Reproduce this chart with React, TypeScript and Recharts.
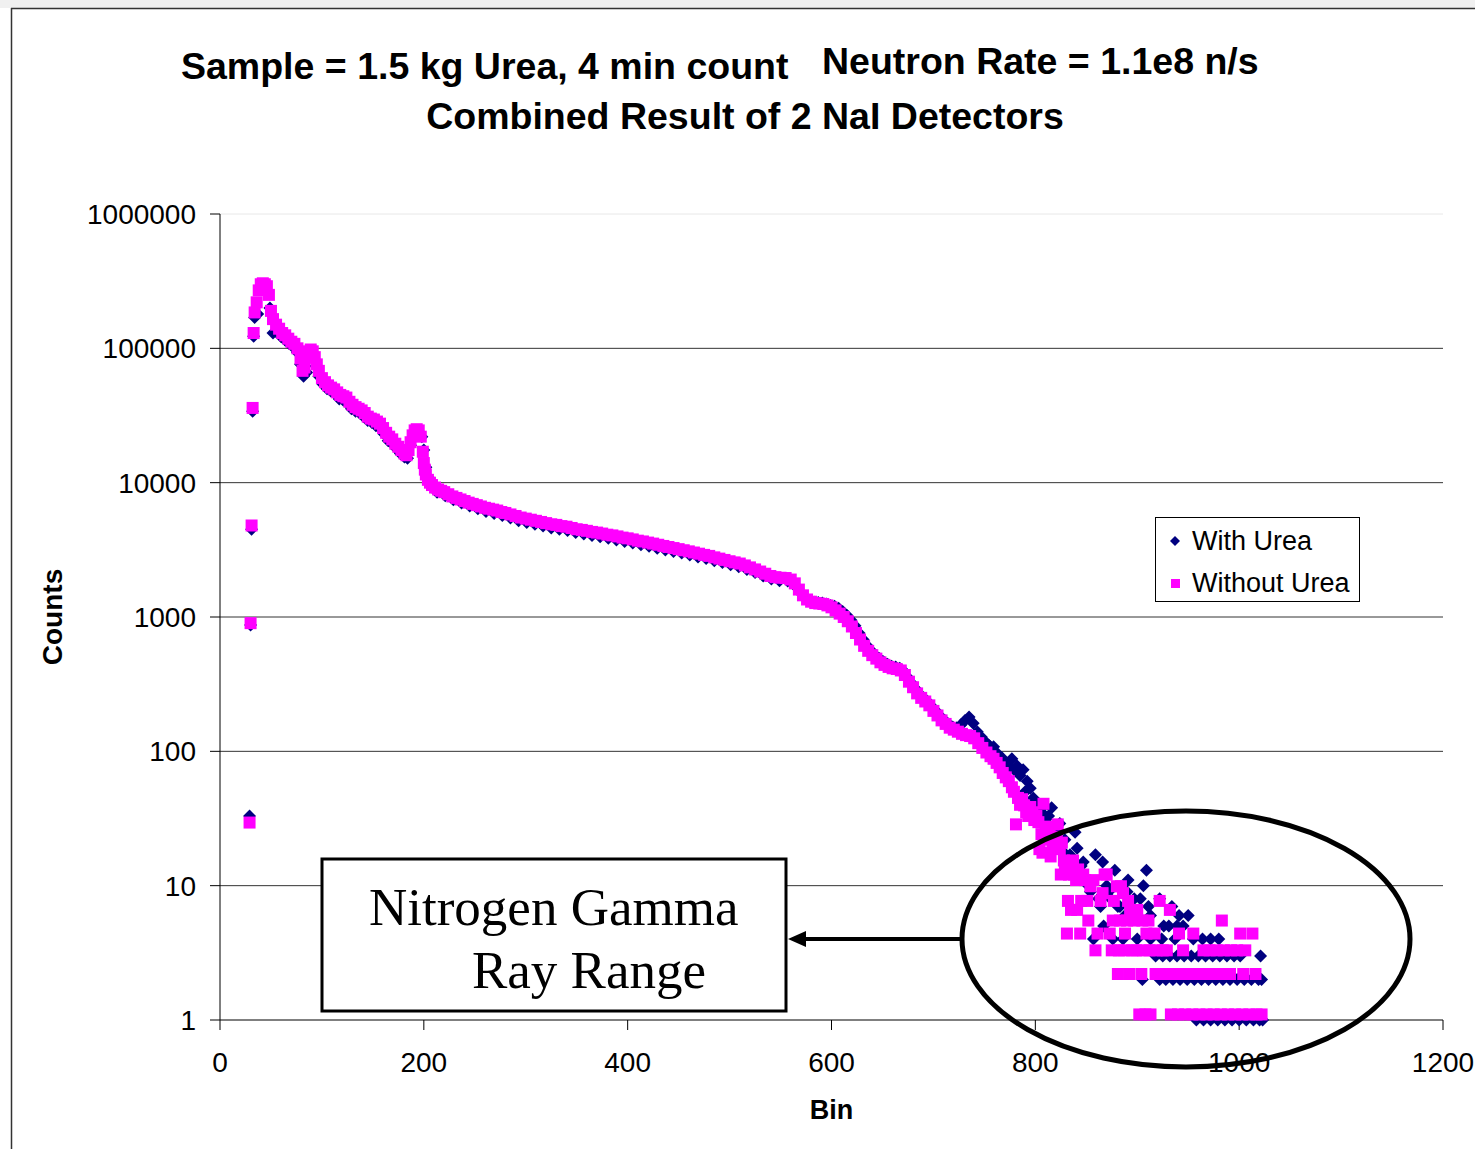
import {
  CartesianGrid,
  Label,
  Legend,
  ReferenceLine,
  Scatter,
  ScatterChart,
  XAxis,
  YAxis,
} from "recharts";

// [bin, counts] pairs
const withUreaPeak: [number, number][] = [
  [29, 33], [30, 870], [31, 4500], [32, 34000], [33, 123000], [34, 170000], [37, 180000],
  [40, 280000], [43, 285000], [46, 270000], [49, 200000], [52, 130000], [56, 135000],
  [60, 122000], [64, 115000], [68, 108000], [72, 102000], [76, 93000], [79, 76000],
  [82, 62000], [85, 66000], [88, 90000], [91, 88000], [94, 74000], [97, 62000],
  [101, 54000], [105, 50000], [109, 48000], [113, 46000], [117, 42000], [121, 41000],
  [125, 39000], [129, 35500], [133, 34000], [137, 33000], [141, 31000], [145, 29000],
  [149, 28000], [153, 26500], [157, 25500], [161, 23000], [165, 20500], [169, 19500],
  [173, 18000], [177, 16500], [181, 15500], [184, 15200], [187, 19000], [190, 23000],
  [193, 24000], [196, 23500], [198, 22000], [200, 17500], [202, 13000], [204, 11000],
  [207, 9800], [210, 9100],
];

const withUreaBody: [number, number][] = [
  [213, 8500], [221, 8000], [229, 7450], [237, 7050], [245, 6700], [253, 6400], [261, 6100],
  [269, 5900], [277, 5700], [285, 5450], [293, 5200], [301, 5050], [309, 4900], [317, 4750],
  [325, 4600], [333, 4500], [341, 4400], [349, 4250], [357, 4150], [365, 4050], [373, 3950],
  [381, 3850], [389, 3750], [397, 3650], [405, 3560], [413, 3450], [421, 3360], [429, 3250],
  [437, 3150], [445, 3070], [453, 3000], [461, 2900], [469, 2800], [477, 2720], [485, 2620],
  [493, 2540], [501, 2450], [509, 2370], [517, 2260], [525, 2140], [533, 2020], [541, 1920],
  [549, 1860], [557, 1850], [563, 1760], [567, 1620], [571, 1480], [575, 1380], [579, 1320],
  [583, 1290], [587, 1280], [591, 1270], [595, 1250], [599, 1220], [603, 1200], [607, 1160],
  [611, 1100], [615, 1030], [619, 950], [623, 860], [627, 760], [631, 680], [635, 610],
  [639, 560], [643, 520], [647, 490], [651, 465], [655, 445], [659, 430], [663, 425],
  [667, 415], [671, 395], [675, 355], [679, 320], [683, 290], [687, 265], [691, 248],
  [695, 232], [699, 214], [703, 198], [707, 182], [711, 170], [715, 160], [719, 152],
  [723, 150], [727, 158], [731, 170], [735, 180], [739, 162], [743, 140], [747, 128],
  [751, 118],
];

const withUreaTail: [number, number][] = [
  [755, 110], [759, 108], [763, 96], [767, 90], [771, 82], [774, 78], [777, 88], [780, 72],
  [782, 78], [785, 66], [788, 73], [790, 50], [792, 60], [795, 53], [798, 45], [801, 42],
  [803, 39], [805, 37], [808, 34], [810, 31], [813, 33], [816, 38], [819, 24], [821, 26],
  [824, 29], [827, 18], [829, 22], [832, 15], [834, 17], [836, 13], [839, 25], [841, 19],
  [843, 12], [845, 14], [847, 15], [849, 11], [852, 10], [854, 9], [859, 17], [862, 8],
  [864, 7], [866, 15], [870, 10], [872, 9], [874, 8], [878, 13], [881, 7], [883, 7],
  [888, 6], [890, 9], [891, 11], [894, 6], [897, 8], [903, 8], [906, 10], [909, 13],
  [911, 7], [913, 6], [922, 8], [934, 7], [941, 6], [950, 6],
];

// [counts, bins] for the flat rows at the low end
const withUreaRows: [number, number[]][] = [
  [1, [958, 965, 972, 979, 986, 993, 1000, 1007, 1014, 1020, 1023]],
  [2, [905, 922, 928, 935, 942, 949, 956, 963, 970, 977, 984, 991, 998, 1005, 1012, 1019, 1022]],
  [3, [918, 925, 932, 939, 946, 953, 960, 967, 974, 981, 988, 995, 1001, 1021]],
  [4, [857, 876, 886, 900, 913, 924, 937, 955, 964, 972, 980]],
  [5, [867, 926, 931, 939, 945]],
];

const withoutUreaPeak: [number, number][] = [
  [29, 29.5], [30, 900], [31, 4800], [32, 36000], [33, 130000], [34, 185000], [36, 220000],
  [38, 270000], [40, 300000], [42, 305000], [44, 300000], [46, 290000], [48, 250000],
  [50, 190000], [52, 165000], [55, 150000], [58, 140000], [61, 130000], [64, 125000],
  [67, 118000], [70, 112000], [73, 108000], [76, 100000], [79, 84000], [81, 68000],
  [83, 72000], [85, 85000], [87, 95000], [89, 98000], [91, 95000], [93, 86000], [95, 76000],
  [97, 68000], [100, 60000], [103, 56000], [106, 53000], [109, 51000], [112, 49500],
  [115, 47000], [118, 45000], [121, 44000], [124, 43000], [127, 40000], [130, 38000],
  [133, 36500], [136, 35500], [139, 34500], [142, 33000], [145, 31000], [148, 30000],
  [151, 29500], [154, 28500], [157, 27500], [160, 25500], [163, 23500], [166, 22000],
  [169, 21000], [172, 19500], [175, 18500], [178, 17500], [181, 16500], [183, 16000],
  [185, 17500], [187, 20000], [189, 22500], [191, 24500], [193, 25000], [195, 24500],
  [197, 22000], [199, 17000], [200, 14000], [201, 12500], [202, 11500], [204, 10500],
  [206, 10000], [208, 9600],
];

const withoutUreaBody: [number, number][] = [
  [211, 9200], [214, 8900], [217, 8700], [220, 8500], [224, 8200], [228, 7900], [232, 7700],
  [236, 7500], [240, 7300], [244, 7100], [248, 6950], [252, 6800], [256, 6650], [260, 6500],
  [264, 6400], [268, 6300], [272, 6200], [276, 6050], [280, 5950], [285, 5800], [290, 5650],
  [295, 5500], [300, 5400], [305, 5300], [310, 5200], [315, 5100], [320, 5000], [325, 4900],
  [330, 4850], [335, 4750], [340, 4700], [345, 4600], [350, 4500], [355, 4450], [360, 4380],
  [365, 4300], [370, 4250], [375, 4180], [380, 4100], [385, 4050], [390, 3980], [395, 3900],
  [400, 3850], [405, 3780], [410, 3700], [415, 3650], [420, 3580], [425, 3520], [430, 3450],
  [435, 3380], [440, 3320], [445, 3260], [450, 3200], [455, 3140], [460, 3080], [465, 3020],
  [470, 2960], [475, 2900], [480, 2850], [485, 2780], [490, 2720], [495, 2660], [500, 2600],
  [505, 2550], [510, 2500], [515, 2420], [520, 2340], [525, 2260], [530, 2180], [535, 2100],
  [540, 2020], [545, 1980], [550, 1960], [555, 1950], [560, 1900], [564, 1780], [568, 1600],
  [572, 1450], [576, 1350], [580, 1300], [584, 1270], [588, 1260], [592, 1250], [596, 1220],
  [600, 1180], [604, 1120], [608, 1060], [612, 1000], [616, 930], [620, 850], [624, 760],
  [628, 680], [632, 610], [636, 560], [640, 520], [644, 490], [648, 460], [652, 440],
  [656, 425], [660, 415], [664, 410], [668, 400], [672, 370], [676, 330], [680, 300],
  [684, 270], [688, 250], [692, 235], [696, 220], [700, 200], [704, 185], [708, 170],
  [712, 160], [716, 150], [720, 145], [724, 140], [728, 135], [732, 132], [736, 130],
  [740, 125], [744, 115], [748, 106], [752, 98],
];

const withoutUreaTail: [number, number][] = [
  [756, 92], [759, 88], [762, 82], [765, 76], [768, 69], [771, 64], [774, 60], [777, 54],
  [779, 50], [781, 28.6], [783, 45], [785, 40], [787, 44], [789, 39.6], [791, 35.2],
  [793, 33], [795, 38.5], [797, 35.2], [799, 30.8], [801, 33], [803, 29.7], [804, 18.7],
  [806, 24.2], [807, 17.6], [808, 40.7], [810, 26.4], [812, 22], [814, 27.5], [815, 16.5],
  [817, 19.8], [819, 23.1], [821, 22], [822, 28.6], [824, 18.7], [825, 12.1], [826, 20.9],
  [828, 15.4], [829, 13.2], [832, 7.7], [833, 12.1], [834, 14.3], [835, 6.6], [837, 15.4],
  [838, 12.1], [840, 11], [841, 6.6], [842, 13.2], [845, 7.7], [847, 12.1], [849, 11],
  [851, 7.7], [854, 9.9], [857, 11], [864, 7.7], [866, 8.8], [868, 12.1], [870, 12.1],
  [877, 7.7], [880, 9.9], [884, 9.9], [886, 8.8], [891, 7.7], [893, 6.6], [900, 6.6],
  [922, 7.7], [932, 6.6],
];

const withoutUreaRows: [number, number[]][] = [
  [1.1, [902, 908, 913, 933, 940, 947, 954, 961, 968, 975, 982, 989, 996, 1003, 1010, 1017, 1022]],
  [2.2, [881, 892, 904, 918, 924, 930, 937, 943, 950, 957, 963, 970, 977, 984, 991, 1004, 1016]],
  [3.3, [859, 875, 882, 887, 895, 899, 906, 912, 919, 925, 929, 945, 965, 971, 978, 985, 992, 998, 1006]],
  [4.4, [831, 844, 861, 873, 888, 909, 917, 941, 955, 1001, 1013]],
  [5.5, [852, 876, 883, 890, 897, 905, 911, 983]],
];

const xTicks = [0, 200, 400, 600, 800, 1000, 1200];
const yTicks = [1, 10, 100, 1000, 10000, 100000, 1000000];

type Point = { bin: number; counts: number };

function fromPairs(pairs: [number, number][]): Point[] {
  return pairs.map(([bin, counts]) => ({ bin, counts }));
}

function fromRows(rows: [number, number[]][]): Point[] {
  return rows.flatMap(([counts, bins]) => bins.map((bin) => ({ bin, counts })));
}

const withUreaData = [
  ...fromPairs(withUreaPeak),
  ...fromPairs(withUreaBody),
  ...fromPairs(withUreaTail),
  ...fromRows(withUreaRows),
];

const withoutUreaData = [
  ...fromPairs(withoutUreaPeak),
  ...fromPairs(withoutUreaBody),
  ...fromPairs(withoutUreaTail),
  ...fromRows(withoutUreaRows),
];

const NAVY = "#000080";
const MAGENTA = "#ff00ff";
const FONT = "'Liberation Sans', Arial, sans-serif";

function DiamondShape(props: any) {
  const { cx, cy } = props;
  if (cx == null || cy == null) return null;
  const r = 6.5;
  return <path d={`M${cx},${cy - r}L${cx + r},${cy}L${cx},${cy + r}L${cx - r},${cy}Z`} fill={NAVY} />;
}

function SquareShape(props: any) {
  const { cx, cy } = props;
  if (cx == null || cy == null) return null;
  return <rect x={cx - 6} y={cy - 6} width={12} height={12} fill={MAGENTA} />;
}

function renderLegend(props: any) {
  const items = props.payload ?? [];
  return (
    <div style={{ paddingTop: 2, fontFamily: FONT, fontSize: 27, color: "#000" }}>
      {items.map((item: any) => (
        <div key={item.value} style={{ display: "flex", alignItems: "center", height: 42 }}>
          <svg width={36} height={42} style={{ flex: "none" }}>
            {item.type === "diamond" ? (
              <path d="M19,16L24,21L19,26L14,21Z" fill={NAVY} />
            ) : (
              <rect x={15} y={17} width={9} height={9} fill={MAGENTA} />
            )}
          </svg>
          <span style={{ lineHeight: "42px", whiteSpace: "nowrap" }}>{item.value}</span>
        </div>
      ))}
    </div>
  );
}

export default function App() {
  const tickStyle = { fontSize: 28, fill: "#000", fontFamily: FONT };

  return (
    <div style={{ position: "absolute", left: 0, top: 0, width: 1475, height: 1149, background: "#fff", fontFamily: FONT }}>
      <ScatterChart width={1475} height={1149} margin={{ top: 214, right: 32, bottom: 19, left: 40 }}>
        <CartesianGrid vertical={false} horizontalValues={[10, 100, 1000, 10000, 100000]} stroke="#333" />
        <ReferenceLine y={1000000} stroke="#e8e8e8" />
        <XAxis
          type="number"
          dataKey="bin"
          domain={[0, 1200]}
          ticks={xTicks}
          interval={0}
          tick={tickStyle}
          tickSize={10}
          tickMargin={22}
          height={110}
          stroke="#000"
        >
          <Label value="Bin" position="insideBottom" offset={11} style={{ fontSize: 27, fontWeight: "bold", fill: "#000", fontFamily: FONT }} />
        </XAxis>
        <YAxis
          type="number"
          dataKey="counts"
          scale="log"
          domain={[1, 1000000]}
          ticks={yTicks}
          interval={0}
          tick={tickStyle}
          tickSize={10}
          tickMargin={14}
          width={180}
          stroke="#000"
        >
          <Label
            value="Counts"
            angle={-90}
            position="insideLeft"
            offset={12}
            style={{ textAnchor: "middle", fontSize: 28, fontWeight: "bold", fill: "#000", fontFamily: FONT }}
          />
        </YAxis>
        <Legend
          layout="horizontal"
          align="center"
          verticalAlign="middle"
          content={renderLegend}
          wrapperStyle={{
            left: 1155,
            top: 517,
            width: 205,
            height: 85,
            border: "1px solid #000",
            background: "#fff",
            boxSizing: "border-box",
          }}
        />
        <Scatter name="With Urea" data={withUreaData} fill={NAVY} shape={DiamondShape} legendType="diamond" isAnimationActive={false} />
        <Scatter name="Without Urea" data={withoutUreaData} fill={MAGENTA} shape={SquareShape} legendType="square" isAnimationActive={false} />
      </ScatterChart>

      <svg width={1475} height={1149} style={{ position: "absolute", left: 0, top: 0, pointerEvents: "none" }}>
        <rect x={0} y={0} width={1475} height={8} fill="#f0f0f0" />
        <line x1={11} y1={8.5} x2={1475} y2={8.5} stroke="#333" strokeWidth={1.5} />
        <line x1={11.5} y1={8} x2={11.5} y2={1149} stroke="#333" strokeWidth={1.5} />

        <g style={{ fontFamily: FONT, fontWeight: "bold", fontSize: 37.5 }} fill="#000">
          <text x={181} y={79}>Sample = 1.5 kg Urea, 4 min count</text>
          <text x={822} y={74}>Neutron Rate = 1.1e8 n/s</text>
          <text x={745} y={129} textAnchor="middle">Combined Result of 2 NaI Detectors</text>
        </g>

        <rect x={322} y={859} width={464} height={152} fill="#fff" stroke="#000" strokeWidth={3} />
        <g style={{ fontFamily: "'Liberation Serif', 'Times New Roman', serif", fontSize: 53 }} fill="#000">
          <text x={369} y={925}>Nitrogen Gamma</text>
          <text x={472} y={988}>Ray Range</text>
        </g>

        <ellipse cx={1186} cy={939} rx={224} ry={128} fill="none" stroke="#000" strokeWidth={5} />
        <line x1={960} y1={939} x2={802} y2={939} stroke="#000" strokeWidth={4} />
        <path d="M788,939L806,931L806,947Z" fill="#000" />
      </svg>
    </div>
  );
}
